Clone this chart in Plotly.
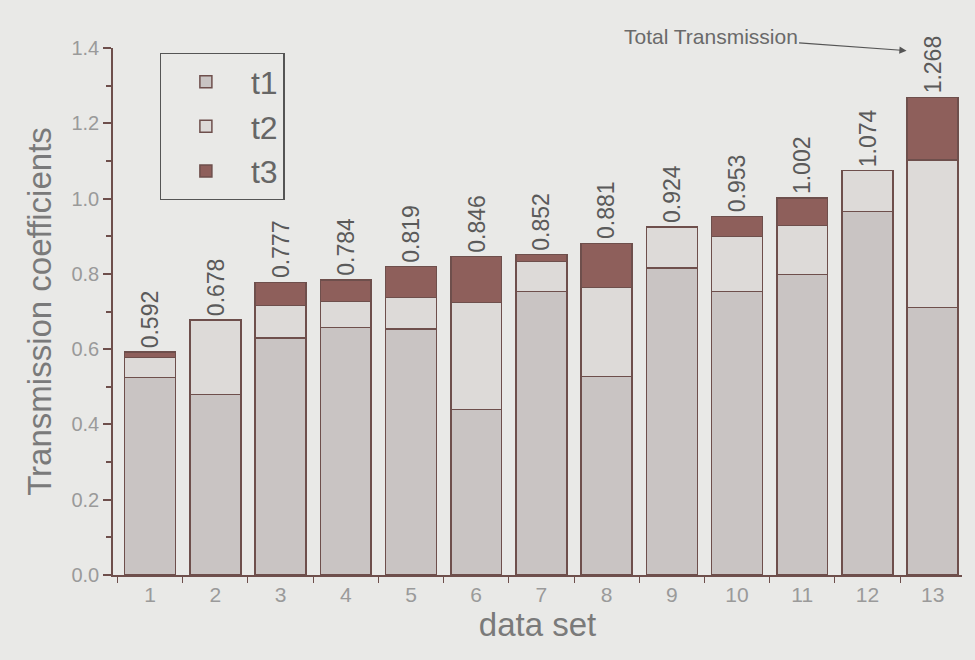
import plotly.graph_objects as go

datasets = [1, 2, 3, 4, 5, 6, 7, 8, 9, 10, 11, 12, 13]
t1 = [0.525, 0.480, 0.629, 0.658, 0.653, 0.440, 0.753, 0.528, 0.815, 0.753, 0.798, 0.966, 0.711]
t2 = [0.053, 0.198, 0.087, 0.069, 0.084, 0.284, 0.080, 0.236, 0.109, 0.146, 0.130, 0.108, 0.392]
t3 = [0.014, 0.000, 0.061, 0.057, 0.082, 0.122, 0.019, 0.117, 0.000, 0.054, 0.074, 0.000, 0.165]
totals = [0.592, 0.678, 0.777, 0.784, 0.819, 0.846, 0.852, 0.881, 0.924, 0.953, 1.002, 1.074, 1.268]
total_labels = ["0.592", "0.678", "0.777", "0.784", "0.819", "0.846", "0.852", "0.881",
                "0.924", "0.953", "1.002", "1.074", "1.268"]

bg = "#e9e9e7"
edge = "#6e4f4c"
font_family = "Arial"

fig = go.Figure()
for name, vals, col in [("t1", t1, "#c9c4c3"), ("t2", t2, "#dddad8"), ("t3", t3, "#8e5f5b")]:
    fig.add_trace(go.Bar(
        x=datasets, y=vals, name=name, width=0.78,
        marker=dict(color=col, line=dict(color=edge, width=1.5)),
    ))

for x, tot, lab in zip(datasets, totals, total_labels):
    fig.add_annotation(x=x, y=tot, text=lab, textangle=-90, showarrow=False,
                       xanchor="center", yanchor="bottom", yshift=2,
                       font=dict(size=23, color="#5a5a5a", family=font_family))

fig.add_annotation(x=12.6, y=1.393, text="Total Transmission", showarrow=True,
                   ax=-196, ay=-14, arrowhead=2, arrowsize=1.2, arrowwidth=1.2,
                   arrowcolor="#555555",
                   font=dict(size=21, color="#6a6a6a", family=font_family))

fig.update_layout(
    barmode="stack",
    width=975, height=660,
    paper_bgcolor=bg, plot_bgcolor=bg,
    margin=dict(l=113, r=13, t=48, b=85),
    font=dict(family=font_family, color="#888888"),
    bargap=0.22,
    legend=dict(
        x=0.055, y=0.99, xanchor="left", yanchor="top",
        bgcolor=bg, bordercolor="#555555", borderwidth=1.2,
        font=dict(size=32, color="#666666", family=font_family),
        traceorder="normal", itemwidth=80,
    ),
    xaxis=dict(
        range=[0.43, 13.45],
        tickmode="array", tickvals=datasets, ticktext=[str(d) for d in datasets],
        ticks="", showgrid=False, zeroline=False,
        showline=True, linecolor=edge, linewidth=1.5,
        tickfont=dict(size=21, color="#9a9a9a"),
        minor=dict(ticks="outside", tick0=0.5, dtick=1, ticklen=6, tickcolor=edge, showgrid=False),
        title=dict(text="data set", font=dict(size=33, color="#7a7a7a"), standoff=8),
    ),
    yaxis=dict(
        range=[0, 1.4], dtick=0.2, tickformat=".1f",
        ticks="outside", ticklen=8, tickcolor=edge, tickwidth=1.5,
        showgrid=False, zeroline=False,
        showline=True, linecolor=edge, linewidth=1.5,
        tickfont=dict(size=20, color="#9a9a9a"),
        minor=dict(ticks="outside", dtick=0.1, ticklen=5, tickcolor=edge, showgrid=False),
        title=dict(text="Transmission coefficients", font=dict(size=33, color="#7a7a7a"), standoff=10),
    ),
)

fig.write_html("out.html")
